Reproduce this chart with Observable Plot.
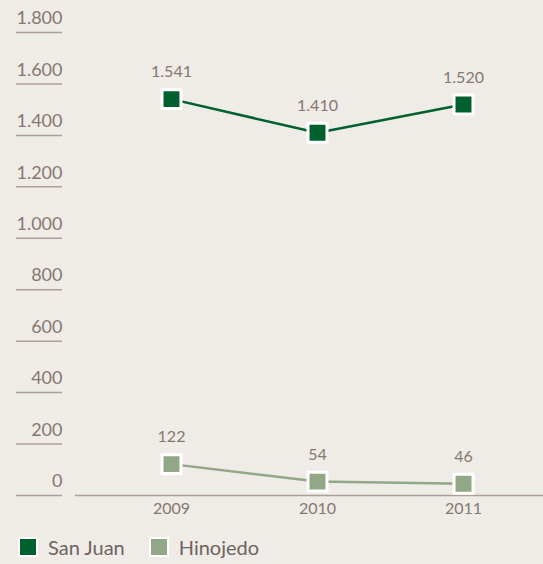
<!DOCTYPE html>
<html>
<head>
<meta charset="utf-8">
<script src="https://cdn.jsdelivr.net/npm/d3@7"></script>
<script src="https://cdn.jsdelivr.net/npm/@observablehq/plot@0.6"></script>
<style>
  html, body { margin: 0; padding: 0; background: #efebe7; }
  body { width: 543px; height: 564px; overflow: hidden; font-family: Lato, "Open Sans", sans-serif; }
  #legend { display: flex; align-items: center; height: 34px; padding-left: 18px; font-size: 20px; color: #6e645e; }
  .sw { width: 16px; height: 16px; border: 2px solid #fff; display: inline-block; margin-right: 10px; }
  .item { display: flex; align-items: center; margin-right: 24px; }
</style>
</head>
<body>
<div id="chart"></div>
<div id="legend"></div>
<script>
const years = ["2009", "2010", "2011"];
const seriesNames = ["San Juan", "Hinojedo"];
const sanJuan = [1541, 1410, 1520];
const hinojedo = [122, 54, 46];
const yTicks = [0, 200, 400, 600, 800, 1000, 1200, 1400, 1600, 1800];
const colors = ["#00612f", "#92a785"];

const data = [];
years.forEach((y, i) => data.push({year: y, series: seriesNames[0], value: sanJuan[i]}));
years.forEach((y, i) => data.push({year: y, series: seriesNames[1], value: hinojedo[i]}));

const loc = d3.formatLocale({decimal: ",", thousands: ".", grouping: [3], currency: ["", "€"]});
const fmt = loc.format(",d");

const txt = "#857870";
const line = "#ab9f96";

const chart = Plot.plot({
  width: 543,
  height: 530,
  marginTop: 32,
  marginBottom: 35,
  marginLeft: 62,
  marginRight: 0,
  style: {background: "transparent", fontFamily: "Lato, 'Open Sans', sans-serif"},
  x: {type: "point", domain: years, range: [170, 463], padding: 0, label: null},
  y: {domain: [0, 1800], range: [495, 32], label: null},
  color: {domain: seriesNames, range: colors},
  marks: [
    Plot.axisY(yTicks, {tickSize: 46, stroke: line, strokeWidth: 1.5, strokeOpacity: 1, text: null, label: null}),
    Plot.axisY(yTicks, {tickSize: 0, tickPadding: 0, dy: -14, fill: txt, fontSize: 18, tickFormat: fmt, label: null}),
    Plot.ruleY([0], {stroke: line, strokeWidth: 1.5, insetLeft: 13}),
    Plot.axisX({tickSize: 0, tickPadding: 7, fill: txt, fontSize: 16, label: null}),
    Plot.line(data, {x: "year", y: "value", z: "series", stroke: "series", strokeWidth: 2.5}),
    Plot.dot(data, {x: "year", y: "value", fill: "series", symbol: "square", r: 10.7, stroke: "#fff", strokeWidth: 3}),
    Plot.text(data, {x: "year", y: "value", text: d => fmt(d.value), dy: -27, fill: txt, fontSize: 16})
  ]
});
document.getElementById("chart").appendChild(chart);

const legend = document.getElementById("legend");
seriesNames.forEach((n, i) => {
  const it = document.createElement("div");
  it.className = "item";
  const sw = document.createElement("span");
  sw.className = "sw";
  sw.style.background = colors[i];
  it.appendChild(sw);
  it.appendChild(document.createTextNode(n));
  legend.appendChild(it);
});
</script>
</body>
</html>
